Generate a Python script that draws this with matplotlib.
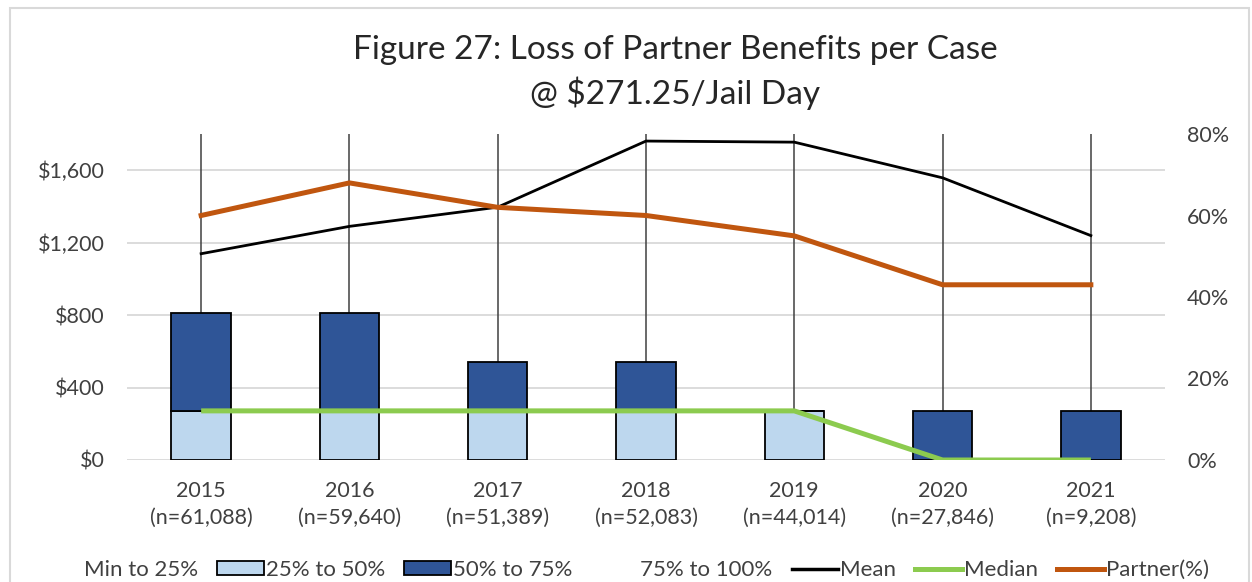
import matplotlib
matplotlib.use('Agg')
from matplotlib import pyplot as plt
from matplotlib.patches import Patch, Rectangle
from matplotlib.lines import Line2D
from matplotlib.ticker import FuncFormatter
import numpy as np

plt.rcParams['font.family'] = ['Lato', 'DejaVu Sans']

years = ['2015', '2016', '2017', '2018', '2019', '2020', '2021']
counts = ['61,088', '59,640', '51,389', '52,083', '44,014', '27,846', '9,208']

# stacked quartile segments ($)
min_to_25 = [0, 0, 0, 0, 0, 0, 0]
p25_to_50 = [271.25, 271.25, 271.25, 271.25, 271.25, 0, 0]
p50_to_75 = [542.5, 542.5, 271.25, 271.25, 0, 271.25, 271.25]
p75_to_100 = [5000, 5000, 5000, 5000, 5000, 5000, 5000]  # runs off the top of the axis

mean = [1139, 1290, 1396, 1761, 1755, 1558, 1239]
median = [271.25, 271.25, 271.25, 271.25, 271.25, 0, 0]
partner = [0.60, 0.68, 0.62, 0.60, 0.55, 0.43, 0.43]

light = '#BDD7EE'
dark = '#2F5597'
green = '#8CCB4F'
orange = '#C0560F'
grid = '#D9D9D9'
text_col = '#404040'
fs = 15.5

fig = plt.figure(figsize=(12.52, 5.82), dpi=100)
fig.patches.append(Rectangle((10 / 1252, -0.05), 1239 / 1252, 1.05 - 8 / 582,
                             transform=fig.transFigure, fill=False,
                             edgecolor='#D9D9D9', linewidth=1.5))

ax = fig.add_axes([127 / 1252, 1 - 460 / 582, (1165 - 127) / 1252, (460 - 134) / 582])
x = np.arange(len(years))
w = 0.40

b0 = np.array(min_to_25, dtype=float)
b1 = b0 + np.array(p25_to_50)
b2 = b1 + np.array(p50_to_75)

ax.bar(x, min_to_25, w, color='none', edgecolor='none', zorder=2)
ax.bar(x, p25_to_50, w, bottom=b0, color=light, edgecolor='black', linewidth=1.3, zorder=2)
ax.bar(x, p50_to_75, w, bottom=b1, color=dark, edgecolor='black', linewidth=1.3, zorder=2)
# 75% to 100% shown as a whisker only
ax.vlines(x, b2, b2 + np.array(p75_to_100), color=text_col, linewidth=1.1, zorder=1.5)

ax.plot(x, mean, color='black', linewidth=2.0, zorder=3)
ax.plot(x, median, color=green, linewidth=3.6, zorder=3, solid_capstyle='butt')

ax.set_xlim(-0.5, len(years) - 0.5)
ax.set_ylim(0, 1800)
ax.set_yticks([0, 400, 800, 1200, 1600])
ax.yaxis.set_major_formatter(FuncFormatter(lambda v, p: f'${v:,.0f}'))
ax.set_xticks(x)
ax.set_xticklabels([f'{y}\n(n={n})' for y, n in zip(years, counts)], linespacing=1.45)
ax.grid(axis='y', color=grid, linewidth=1.3, zorder=0)
ax.set_axisbelow(True)
for s in ax.spines.values():
    s.set_visible(False)
ax.tick_params(axis='both', length=0, labelsize=fs, colors=text_col, pad=16)
ax.tick_params(axis='x', pad=15)

ax2 = ax.twinx()
ax2.plot(x, partner, color=orange, linewidth=3.6, zorder=4)
ax2.set_ylim(0, 0.8)
ax2.set_yticks([0, 0.2, 0.4, 0.6, 0.8])
ax2.yaxis.set_major_formatter(FuncFormatter(lambda v, p: f'{v:.0%}'))
for s in ax2.spines.values():
    s.set_visible(False)
ax2.tick_params(axis='y', length=0, labelsize=fs, colors=text_col, pad=16)

fig.text(0.539, 1 - 50 / 582, 'Figure 27: Loss of Partner Benefits per Case',
         ha='center', va='center', fontsize=24, color='#262626')
fig.text(0.539, 1 - 93 / 582, '@ $271.25/Jail Day',
         ha='center', va='center', fontsize=24, color='#262626')

handles = [
    Patch(facecolor='none', edgecolor='none'),
    Patch(facecolor=light, edgecolor='black', linewidth=1.3),
    Patch(facecolor=dark, edgecolor='black', linewidth=1.3),
    Patch(facecolor='none', edgecolor='none'),
    Line2D([], [], color='black', linewidth=2.5),
    Line2D([], [], color=green, linewidth=3.6),
    Line2D([], [], color=orange, linewidth=3.6),
]
labels = ['Min to 25%', '25% to 50%', '50% to 75%', '75% to 100%', 'Mean', 'Median', 'Partner(%)']
leg = fig.legend(handles, labels, loc='center', bbox_to_anchor=(0.497, 1 - 570 / 582),
                 ncol=7, frameon=False, fontsize=16, handlelength=2.1,
                 handleheight=0.6, handletextpad=0.1, columnspacing=0.85)
for t in leg.get_texts():
    t.set_color(text_col)

fig.savefig('out.png', dpi=100)
